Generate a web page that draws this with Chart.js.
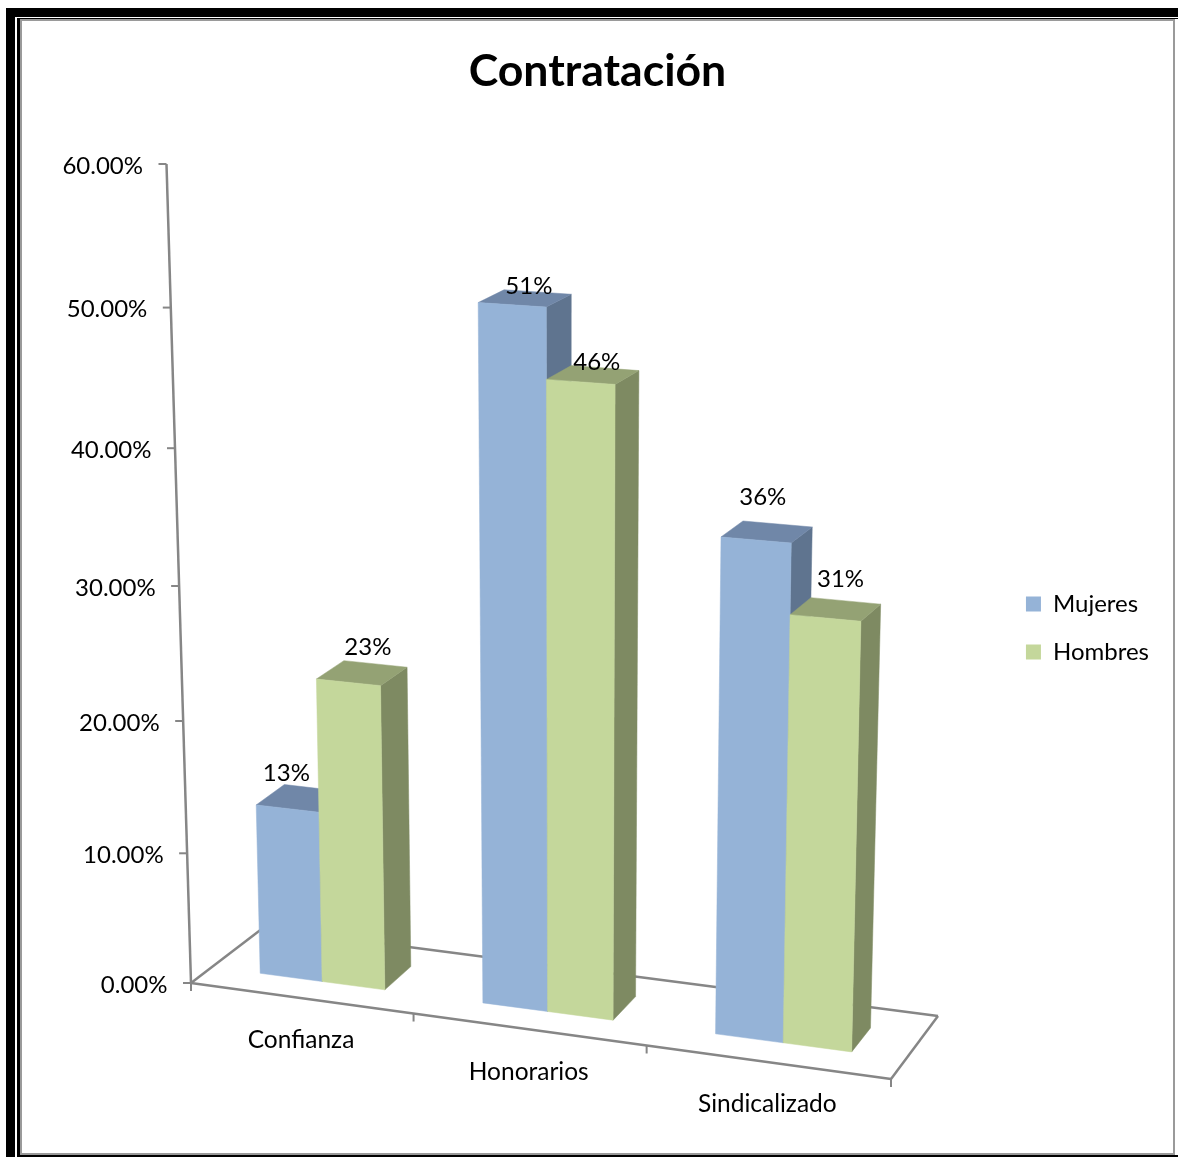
<!DOCTYPE html>
<html>
<head>
<meta charset="utf-8">
<title>Contratación</title>
<script src="https://cdn.jsdelivr.net/npm/chart.js@4"></script>
<style>
  html, body { margin: 0; padding: 0; background: #fff; }
  #wrap { position: relative; width: 1178px; height: 1157px; overflow: hidden; }
  #wrap div { position: absolute; }
  #chart { position: absolute; left: 0; top: 0; }
</style>
</head>
<body>
<div id="wrap">
  <!-- marco de la imagen -->
  <div style="left:6px;top:8px;width:9px;height:1149px;background:#000"></div>
  <div style="left:6px;top:8px;width:1172px;height:9px;background:#000"></div>
  <div style="left:17px;top:18px;width:3px;height:1139px;background:#000"></div>
  <div style="left:17px;top:18px;width:1161px;height:1px;background:#000"></div>
  <div style="left:17px;top:1155px;width:1161px;height:2px;background:#000"></div>
  <div style="left:20px;top:19px;width:1151px;height:1132px;border:2px solid #9a9a9a"></div>
  <canvas id="chart" width="1178" height="1157"></canvas>
</div>
<script>
const categories = ['Confianza', 'Honorarios', 'Sindicalizado'];
const mujeres = [0.13, 0.51, 0.36];
const hombres = [0.23, 0.46, 0.31];

// esquinas de los planos en perspectiva: abajo-izq, abajo-der, arriba-der, arriba-izq
const axisPlane = [[191, 983], [891, 1079], [912, 203], [166.5, 164]];
const barFront = [[213, 967], [905, 1059], [927, 195], [191, 156]];
const barBack = [[241.6, 944], [923, 1035], [947, 184], [221, 145]];
const floorBack = [[263, 928], [938, 1016]];

// ajuste a mano de las etiquetas de datos, por serie y categoria
const labelNudge = [
    [[-15, -25], [4, -12], [-4, -35]],
    [[6, -26], [4, -13], [5, -30]]
];

const faceColors = [
    { front: '#95b3d7', top: '#7087a8', side: '#5f748f' },
    { front: '#c4d79b', top: '#94a274', side: '#7e8a62' }
];

// homografia del cuadrado unidad al cuadrilatero
function quadMap(q) {
    const [p0, p1, p2, p3] = q;
    const dx1 = p1[0] - p2[0], dx2 = p3[0] - p2[0], sx = p0[0] - p1[0] + p2[0] - p3[0];
    const dy1 = p1[1] - p2[1], dy2 = p3[1] - p2[1], sy = p0[1] - p1[1] + p2[1] - p3[1];
    const den = dx1 * dy2 - dx2 * dy1;
    const g = (sx * dy2 - dx2 * sy) / den;
    const h = (dx1 * sy - sx * dy1) / den;
    return (u, t) => {
        const w = g * u + h * t + 1;
        return [
            ((p1[0] - p0[0] + g * p1[0]) * u + (p3[0] - p0[0] + h * p3[0]) * t + p0[0]) / w,
            ((p1[1] - p0[1] + g * p1[1]) * u + (p3[1] - p0[1] + h * p3[1]) * t + p0[1]) / w
        ];
    };
}

const onAxis = quadMap(axisPlane);
const onFront = quadMap(barFront);
const onBack = quadMap(barBack);

function poly(ctx, pts, color) {
    ctx.beginPath();
    pts.forEach((p, i) => i ? ctx.lineTo(p[0], p[1]) : ctx.moveTo(p[0], p[1]));
    ctx.closePath();
    ctx.fillStyle = color;
    ctx.fill();
    ctx.strokeStyle = color;
    ctx.lineWidth = 0.5;
    ctx.stroke();
}

function line(ctx, a, b) {
    ctx.beginPath();
    ctx.moveTo(a[0], a[1]);
    ctx.lineTo(b[0], b[1]);
    ctx.stroke();
}

const perspective3d = {
    id: 'perspective3d',
    beforeDatasetsDraw(chart) {
        const ctx = chart.ctx;
        const area = chart.chartArea;
        const xs = chart.scales.x;
        const ys = chart.scales.y;
        const toU = x => (x - area.left) / area.width;
        const toT = y => (area.bottom - y) / area.height;

        ctx.save();

        // piso y ejes
        ctx.strokeStyle = '#868686';
        ctx.lineWidth = 2.5;
        line(ctx, onAxis(0, 0), onAxis(1, 0));
        line(ctx, onAxis(0, 0), onAxis(0, 1));
        line(ctx, onAxis(0, 0), floorBack[0]);
        line(ctx, floorBack[0], floorBack[1]);
        line(ctx, floorBack[1], onAxis(1, 0));

        // marcas y etiquetas del eje de valores
        ctx.font = '24px Lato';
        ctx.fillStyle = '#000';
        ctx.textAlign = 'right';
        ctx.textBaseline = 'middle';
        ctx.lineWidth = 2;
        ys.ticks.forEach(tick => {
            const p = onAxis(0, toT(ys.getPixelForValue(tick.value)));
            line(ctx, [p[0] - 8, p[1]], p);
            ctx.fillText(tick.label, p[0] - 23.5, p[1] + 2);
        });

        // marcas y etiquetas de categorias
        ctx.textAlign = 'center';
        ctx.font = '24.5px Lato';
        xs.ticks.forEach((tick, i) => {
            const c = toU(xs.getPixelForTick(i));
            const half = 1 / categories.length / 2;
            const p = onAxis(c + half, 0);
            line(ctx, p, [p[0], p[1] + 8]);
            const q = onAxis(c, 0);
            ctx.fillText(categories[i], q[0], q[1] + 42.5);
        });
        const o = onAxis(0, 0);
        line(ctx, o, [o[0], o[1] + 8]);

        // barras, de izquierda a derecha
        const labels = [];
        categories.forEach((cat, i) => {
            chart.data.datasets.forEach((ds, d) => {
                const bar = chart.getDatasetMeta(d).data[i];
                const u0 = toU(bar.x - bar.width / 2);
                const u1 = toU(bar.x + bar.width / 2);
                const t0 = toT(bar.base);
                const t1 = toT(bar.y);
                const col = faceColors[d];
                poly(ctx, [onFront(u1, t0), onBack(u1, t0), onBack(u1, t1), onFront(u1, t1)], col.side);
                poly(ctx, [onFront(u0, t1), onFront(u1, t1), onBack(u1, t1), onBack(u0, t1)], col.top);
                poly(ctx, [onFront(u0, t0), onFront(u1, t0), onFront(u1, t1), onFront(u0, t1)], col.front);

                const a = onFront((u0 + u1) / 2, t1);
                const b = onBack((u0 + u1) / 2, t1);
                labels.push({
                    text: Math.round(ds.data[i] * 100) + '%',
                    x: (a[0] + b[0]) / 2 + labelNudge[d][i][0],
                    y: (a[1] + b[1]) / 2 + labelNudge[d][i][1]
                });
            });
        });

        ctx.fillStyle = '#000';
        ctx.textAlign = 'center';
        ctx.font = '24px Lato';
        labels.forEach(l => ctx.fillText(l.text, l.x, l.y));

        ctx.restore();
        return false;
    }
};

new Chart(document.getElementById('chart'), {
    type: 'bar',
    data: {
        labels: categories,
        datasets: [
            { label: 'Mujeres', data: mujeres, backgroundColor: '#95b3d7' },
            { label: 'Hombres', data: hombres, backgroundColor: '#c4d79b' }
        ]
    },
    options: {
        responsive: false,
        animation: false,
        // el bottom negativo baja la leyenda, que se centra en todo el alto
        layout: { padding: { left: 36, right: 19, bottom: -99 } },
        categoryPercentage: 0.565,
        barPercentage: 1,
        scales: {
            x: { display: false },
            y: {
                display: false,
                min: 0,
                max: 0.6,
                ticks: {
                    stepSize: 0.1,
                    callback: v => (v * 100).toFixed(2) + '%'
                }
            }
        },
        plugins: {
            title: {
                display: true,
                text: 'Contratación',
                color: '#000',
                font: { family: 'Lato', size: 44.6, weight: 'bold' },
                padding: { top: 45, bottom: 14 }
            },
            legend: {
                position: 'right',
                labels: {
                    color: '#000',
                    font: { family: 'Lato', size: 24 },
                    boxWidth: 15,
                    boxHeight: 15,
                    padding: 24
                }
            },
            tooltip: { enabled: false }
        }
    },
    plugins: [perspective3d]
});
</script>
</body>
</html>
